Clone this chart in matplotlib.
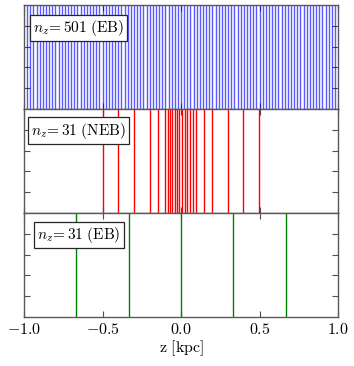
import numpy as np
import matplotlib
matplotlib.use("Agg")
import matplotlib.pyplot as plt
from matplotlib.ticker import FuncFormatter

plt.rcParams['mathtext.fontset'] = 'cm'

# grid definitions (equal bins span -5..5 kpc)
z_range = (-5.0, 5.0)
nz_eb_fine = 501
nz_eb_coarse = 31

# non-equal bins (kpc)
z_neb = [-0.5, -0.4, -0.3, -0.2, -0.15, -0.1, -0.085, -0.072, -0.055, -0.04,
         -0.025, -0.011, 0.006, 0.023, 0.038, 0.057, 0.074, 0.097,
         0.148, 0.197, 0.297, 0.396, 0.496]

labels = [r'$n_z\!{=}501\ \mathrm{(EB)}$',
          r'$n_z\!{=}31\ \mathrm{(NEB)}$',
          r'$n_z\!{=}31\ \mathrm{(EB)}$']
xticks = [-1.0, -0.5, 0.0, 0.5, 1.0]

z_eb_fine = np.linspace(z_range[0], z_range[1], nz_eb_fine)
z_eb_coarse = np.linspace(z_range[0], z_range[1], nz_eb_coarse)

fig = plt.figure(figsize=(3.54, 3.66), dpi=100)
left, right, top, bottom = 0.068, 0.955, 0.986, 0.134
h = (top - bottom) / 3
axes = [fig.add_axes([left, top - (i + 1) * h, right - left, h]) for i in range(3)]

series = [(z_eb_fine, 'b', 0.65), (z_neb, 'r', 1.0), (z_eb_coarse, 'g', 1.0)]
box_pos = [(0.028, 0.875), (0.022, 0.89), (0.041, 0.885)]

for ax, (zs, c, a), lab, (bx, by) in zip(axes, series, labels, box_pos):
    for z in zs:
        if -1.0 < z < 1.0:
            ax.axvline(z, color=c, lw=1.0, alpha=a)
    ax.set_xlim(-1, 1)
    ax.set_ylim(0, 1)
    ax.set_yticks([0.2, 0.4, 0.6, 0.8])
    ax.set_yticklabels([])
    ax.set_xticks(xticks)
    ax.tick_params(direction='in', length=4, width=0.8, color='0.3',
                   top=True, right=True, labelsize=11.5)
    for sp in ax.spines.values():
        sp.set_color('0.35')
        sp.set_linewidth(1.0)
    ax.text(bx, by, lab, transform=ax.transAxes, ha='left', va='top',
            fontsize=11, zorder=5,
            bbox=dict(boxstyle='square,pad=0.22', fc='white', ec='0.15', lw=0.9))

for ax in axes[:2]:
    ax.set_xticklabels([])
axes[2].xaxis.set_major_formatter(FuncFormatter(lambda v, p: r'$%.1f$' % v))
axes[2].set_xlabel(r'$\mathrm{z\ [kpc]}$', fontsize=11.5, labelpad=1)

fig.savefig('out.png', dpi=100)
